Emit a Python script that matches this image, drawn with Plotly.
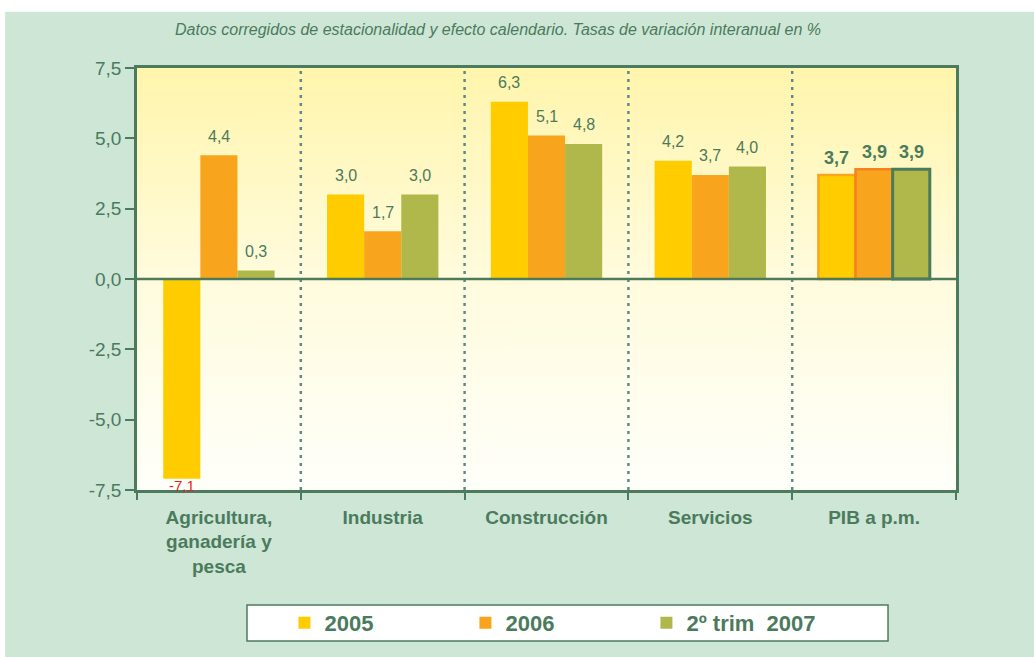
import plotly.graph_objects as go

categories = ["Agricultura,<br>ganadería y<br>pesca", "Industria", "Construcción", "Servicios", "PIB a p.m."]
series_names = ["2005", "2006", "2º trim  2007"]
v2005 = [-7.1, 3.0, 6.3, 4.2, 3.7]
v2006 = [4.4, 1.7, 5.1, 3.7, 3.9]
v2007 = [0.3, 3.0, 4.8, 4.0, 3.9]
y_ticks = [-7.5, -5.0, -2.5, 0.0, 2.5, 5.0, 7.5]

GREEN_TXT = "#4B7B5C"
BG_GREEN = "#CDE6D6"
COLORS = ["#FFCC00", "#F8A51D", "#B1B84B"]
PIB_LINES = ["#F9A51E", "#F5821F", "#4B7B5C"]
PIB_LW = [2.5, 2.5, 3]
SEP = "#5B8C8C"

series = [v2005, v2006, v2007]
xs = list(range(len(categories)))
bargap = 0.32
bw = (1 - bargap) / 3
XR = [-0.5, 4.5]
YR = [-7.5, 7.5]

fig = go.Figure()

# gradient plot background (main axes, below the overlaid bar axes)
fig.add_trace(go.Scatter(
    x=[XR[0], XR[1], XR[1], XR[0], XR[0]], y=[YR[0], YR[0], YR[1], YR[1], YR[0]],
    mode="lines", line=dict(width=0), fill="toself",
    fillgradient=dict(type="vertical", start=YR[0], stop=YR[1],
                      colorscale=[[0, "#FFFFFA"], [0.5, "#FFFBDD"], [1, "#FFF5AC"]]),
    hoverinfo="skip", showlegend=False, xaxis="x", yaxis="y"))

for i, (name, vals) in enumerate(zip(series_names, series)):
    lc = ["rgba(0,0,0,0)"] * (len(vals) - 1) + [PIB_LINES[i]]
    lw = [0] * (len(vals) - 1) + [PIB_LW[i]]
    fig.add_trace(go.Bar(
        x=xs, y=vals, name=name, marker=dict(color=COLORS[i], line=dict(color=lc, width=lw)),
        width=bw, offset=(i - 1.5) * bw, hoverinfo="skip", xaxis="x2", yaxis="y2"))

annotations = []
for i, vals in enumerate(series):
    for j, v in enumerate(vals):
        txt = f"{v:.1f}".replace(".", ",")
        bold = j == len(vals) - 1
        neg = v < 0
        annotations.append(dict(
            x=xs[j] + (i - 1) * bw, y=v, xref="x2", yref="y2", text=txt, showarrow=False,
            yanchor="middle", yshift=(-7 if neg else (17 if bold else 19)),
            font=dict(size=(18 if bold else 16) if not neg else 15,
                      color="#E8202A" if neg else GREEN_TXT,
                      weight="bold" if bold else "normal")))

annotations.append(dict(
    x=0.441, y=1.092, xref="paper", yref="paper", xanchor="center", yanchor="middle",
    text="<i>Datos corregidos de estacionalidad y efecto calendario. Tasas de variación interanual en %</i>",
    showarrow=False, font=dict(size=16, color=GREEN_TXT)))

shapes = [
    dict(type="rect", xref="paper", yref="paper", x0=-0.161, x1=1.11, y0=-0.40, y1=1.133,
         fillcolor=BG_GREEN, line=dict(width=0), layer="below"),
    dict(type="rect", xref="paper", yref="paper", x0=0.1343, x1=0.917, y0=-0.3578, y1=-0.2725,
         fillcolor="white", line=dict(color=GREEN_TXT, width=1.5), layer="below"),
]
for b in [0.5, 1.5, 2.5, 3.5]:
    shapes.append(dict(type="line", xref="x", yref="y", x0=b, x1=b, y0=YR[0], y1=YR[1],
                       line=dict(color=SEP, width=2.5, dash="3px,5px"), layer="above"))
shapes.append(dict(type="line", xref="x", yref="y", x0=XR[0], x1=XR[1], y0=0, y1=0,
                   line=dict(color=GREEN_TXT, width=2.5), layer="above"))

fig.update_layout(
    width=1034, height=657,
    margin=dict(l=137, r=78, t=68, b=167),
    paper_bgcolor="white", plot_bgcolor="rgba(0,0,0,0)",
    font=dict(family="Liberation Sans, Arial, sans-serif", color=GREEN_TXT),
    barmode="overlay", bargap=bargap,
    showlegend=True,
    legend=dict(orientation="h", x=0.18, y=-0.315, xanchor="left", yanchor="middle",
                bgcolor="rgba(0,0,0,0)", entrywidth=136, entrywidthmode="pixels",
                itemwidth=30, font=dict(size=22, color=GREEN_TXT, weight="bold"),
                traceorder="normal"),
    annotations=annotations, shapes=shapes,
    xaxis=dict(
        range=XR, tickmode="array", tickvals=xs, ticktext=[f"<b>{c}</b>" for c in categories],
        ticks="", showgrid=False, zeroline=False,
        showline=True, linecolor=GREEN_TXT, linewidth=2.5, mirror=True,
        tickfont=dict(size=19, color=GREEN_TXT), ticklabelstandoff=8,
        minor=dict(ticks="outside", tick0=0.5, dtick=1, ticklen=7, tickwidth=2,
                   tickcolor=GREEN_TXT, showgrid=False)),
    yaxis=dict(
        range=YR, tickmode="array", tickvals=y_ticks,
        ticktext=[f"{v:.1f}".replace(".", ",") for v in y_ticks],
        ticks="outside", ticklen=9, tickwidth=2, tickcolor=GREEN_TXT,
        showgrid=False, zeroline=False,
        showline=True, linecolor=GREEN_TXT, linewidth=2.5, mirror=True,
        tickfont=dict(size=19, color=GREEN_TXT)),
    xaxis2=dict(range=XR, overlaying="x", visible=False, showgrid=False, zeroline=False),
    yaxis2=dict(range=YR, overlaying="y", visible=False, showgrid=False, zeroline=False),
)

fig.write_html("out.html", config={"displayModeBar": False},
               post_script="document.body.style.margin='0';")
